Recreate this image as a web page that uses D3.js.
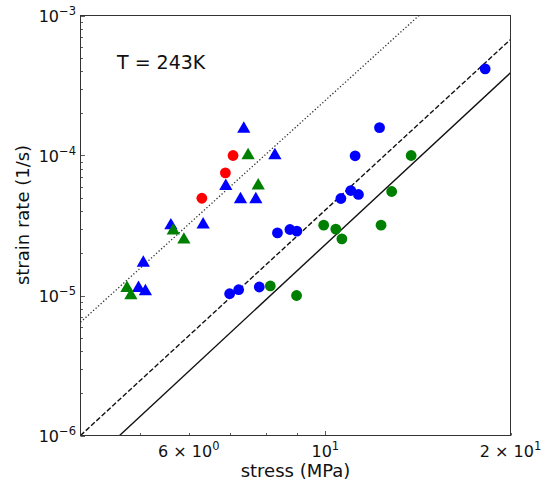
<!DOCTYPE html>
<html>
<head>
<meta charset="utf-8">
<script src="https://cdn.jsdelivr.net/npm/d3@7"></script>
<style>
  body { margin: 0; background: #fff; }
  svg { font-family: "DejaVu Sans", sans-serif; }
</style>
</head>
<body>
<svg id="chart" width="541" height="481"></svg>
<script>
// stress (MPa) / strain rate (1/s)
const blueTriStress = [7.37, 8.28, 6.89, 7.28, 7.71, 6.33, 5.61, 5.06, 4.97, 5.10];
const blueTriRate = [1.55e-4, 1.0e-4, 6.04e-5, 4.85e-5, 4.85e-5, 3.21e-5, 3.16e-5, 1.71e-5, 1.13e-5, 1.07e-5];

const greenTriStress = [7.49, 7.78, 5.66, 5.89, 4.76, 4.83];
const greenTriRate = [1.0e-4, 6.1e-5, 2.91e-5, 2.5e-5, 1.13e-5, 1.0e-5];

const redCircStress = [7.08, 6.88, 6.30];
const redCircRate = [1.0e-4, 7.52e-5, 4.95e-5];

const blueCircStress = [18.19, 12.25, 11.18, 11.0, 11.32, 10.6, 8.36, 8.76, 8.99, 6.99, 7.23, 7.81];
const blueCircRate = [4.16e-4, 1.58e-4, 9.95e-5, 5.62e-5, 5.27e-5, 4.93e-5, 2.8e-5, 2.96e-5, 2.88e-5, 1.03e-5, 1.10e-5, 1.15e-5];

const greenCircStress = [13.79, 12.82, 12.32, 9.94, 10.40, 10.64, 8.14, 8.98];
const greenCircRate = [1.0e-4, 5.53e-5, 3.18e-5, 3.18e-5, 2.98e-5, 2.54e-5, 1.17e-5, 1.0e-5];

// reference power-law lines, endpoints [stress, rate]
const solidLine = [[4.63, 1e-6], [20, 3.9e-4]];
const dashedLine = [[4, 1e-6], [20, 6.74e-4]];
const dottedLine = [[4, 6.44e-6], [14.2, 1e-3]];

const xTickLabels = [[6, '6', '0'], [10, '', '1'], [20, '2', '1']];
const yTickLabels = [1e-3, 1e-4, 1e-5, 1e-6];

const margin = { left: 80.5, right: 510.5, top: 15.5, bottom: 435.5 };
const svg = d3.select('#chart');

const x = d3.scaleLog().domain([4, 20]).range([margin.left, margin.right]);
const y = d3.scaleLog().domain([1e-6, 1e-3]).range([margin.bottom, margin.top]);

svg.append('defs').append('clipPath').attr('id', 'clip')
  .append('rect')
  .attr('x', margin.left).attr('y', margin.top)
  .attr('width', margin.right - margin.left)
  .attr('height', margin.bottom - margin.top);

// ticks (inside)
const axisColor = '#333';
const tickG = svg.append('g');
const xMinor = [5, 6, 7, 8, 9, 20];
xMinor.forEach(v => {
  tickG.append('line')
    .attr('x1', Math.round(x(v)) + 0.5).attr('x2', Math.round(x(v)) + 0.5)
    .attr('y1', margin.bottom).attr('y2', margin.bottom - 2.5)
    .attr('stroke', axisColor).attr('stroke-width', 0.8);
});
tickG.append('line')
  .attr('x1', Math.round(x(10)) + 0.5).attr('x2', Math.round(x(10)) + 0.5)
  .attr('y1', margin.bottom).attr('y2', margin.bottom - 4.5)
  .attr('stroke', axisColor).attr('stroke-width', 0.8);

[1e-6, 1e-5, 1e-4].forEach(d => {
  for (let k = 2; k <= 9; k++) {
    const yy = Math.round(y(d * k)) + 0.5;
    tickG.append('line')
      .attr('x1', margin.left).attr('x2', margin.left + 2.5)
      .attr('y1', yy).attr('y2', yy)
      .attr('stroke', axisColor).attr('stroke-width', 0.8);
  }
});
yTickLabels.forEach(d => {
  const yy = Math.round(y(d)) + 0.5;
  tickG.append('line')
    .attr('x1', margin.left).attr('x2', margin.left + 4.5)
    .attr('y1', yy).attr('y2', yy)
    .attr('stroke', axisColor).attr('stroke-width', 0.8);
});

// lines
const line = d3.line().x(d => x(d[0])).y(d => y(d[1]));
const lineG = svg.append('g').attr('clip-path', 'url(#clip)');
lineG.append('path').datum(solidLine).attr('d', line)
  .attr('fill', 'none').attr('stroke', '#111').attr('stroke-width', 1.4);
lineG.append('path').datum(dashedLine).attr('d', line)
  .attr('fill', 'none').attr('stroke', '#111').attr('stroke-width', 1.4)
  .attr('stroke-dasharray', '5,2.2');
lineG.append('path').datum(dottedLine).attr('d', line)
  .attr('fill', 'none').attr('stroke', '#333').attr('stroke-width', 1.3)
  .attr('stroke-dasharray', '1.3,2.1');

// markers
const pts = (sx, sy) => sx.map((v, i) => [v, sy[i]]);
const markG = svg.append('g');
function circles(data, color) {
  markG.selectAll(null).data(data).enter().append('circle')
    .attr('cx', d => x(d[0])).attr('cy', d => y(d[1]))
    .attr('r', 5.4).attr('fill', color);
}
function triangles(data, color) {
  const tri = d3.symbol().type(d3.symbolTriangle).size(76);
  markG.selectAll(null).data(data).enter().append('path')
    .attr('d', tri)
    .attr('transform', d => `translate(${x(d[0])},${y(d[1])})`)
    .attr('fill', color);
}
circles(pts(redCircStress, redCircRate), '#ff0000');
triangles(pts(blueTriStress, blueTriRate), '#0000ff');
triangles(pts(greenTriStress, greenTriRate), '#008000');
circles(pts(blueCircStress, blueCircRate), '#0000ff');
circles(pts(greenCircStress, greenCircRate), '#008000');

// frame
svg.append('rect')
  .attr('x', margin.left).attr('y', margin.top)
  .attr('width', margin.right - margin.left)
  .attr('height', margin.bottom - margin.top)
  .attr('fill', 'none').attr('stroke', axisColor).attr('stroke-width', 1);

// tick labels
const fs = 16;
yTickLabels.forEach(d => {
  const t = svg.append('text')
    .attr('x', 76).attr('y', y(d) + 6)
    .attr('text-anchor', 'end').attr('font-size', fs).attr('fill', '#111');
  t.append('tspan').text('10');
  t.append('tspan').attr('dy', -7).attr('font-size', 11.5)
    .text('\u2212' + Math.round(-Math.log10(d)));
});
xTickLabels.forEach(([v, mant, ex]) => {
  const t = svg.append('text')
    .attr('x', x(v)).attr('y', 457)
    .attr('text-anchor', 'middle').attr('font-size', fs).attr('fill', '#111');
  t.append('tspan').text(mant ? mant + ' \u00d7 10' : '10');
  t.append('tspan').attr('dy', -7).attr('font-size', 11.5).text(ex);
});

// axis labels
svg.append('text')
  .attr('x', (margin.left + margin.right) / 2).attr('y', 477)
  .attr('text-anchor', 'middle').attr('font-size', 18).attr('fill', '#111')
  .text('stress (MPa)');
svg.append('text')
  .attr('transform', 'translate(29,215) rotate(-90)')
  .attr('text-anchor', 'middle').attr('font-size', 18).attr('fill', '#111')
  .text('strain rate (1/s)');

// annotation
svg.append('text')
  .attr('x', 117).attr('y', 69)
  .attr('font-size', 19).attr('fill', '#111')
  .text('T = 243K');
</script>
</body>
</html>
